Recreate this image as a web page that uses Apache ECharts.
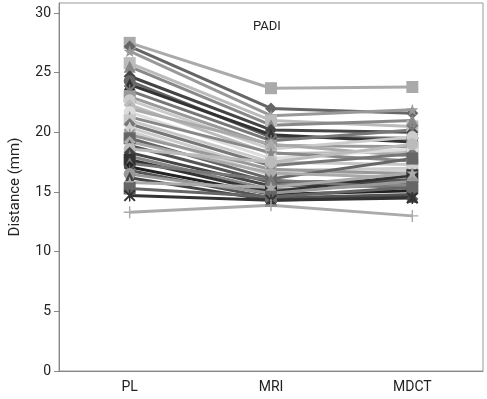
<!DOCTYPE html>
<html><head><meta charset="utf-8">
<script src="https://cdn.jsdelivr.net/npm/echarts@6/dist/echarts.min.js"></script>
<style>html,body{margin:0;padding:0;background:#fff}#c{width:487px;height:399px}</style>
</head><body><div id="c"></div>
<script>
const categories = ['PL', 'MRI', 'MDCT'];
const yTicks = [0, 5, 10, 15, 20, 25, 30];
const plValues   = [27.5,27.2,26.8,25.8,25.5,24.7,24.3,24.0,23.5,23.0,22.7,22.3,22.0,21.7,21.3,21.0,20.7,20.4,20.1,19.8,19.5,19.2,18.9,18.6,18.3,18.0,17.7,17.4,17.1,16.8,16.5,16.2,15.8,15.3,14.7,13.3];
const mriValues  = [23.7,22.0,21.4,21.0,20.6,20.2,19.6,19.8,19.3,18.9,18.6,18.2,19.0,17.8,18.3,17.5,17.2,16.8,16.4,16.9,16.1,16.6,15.8,17.5,15.5,15.2,15.0,16.0,14.8,14.5,14.9,14.3,15.4,14.6,14.3,13.9];
const mdctValues = [23.8,21.6,21.9,20.5,21.0,20.0,19.5,19.2,20.2,18.8,19.6,18.4,18.0,18.6,17.6,17.3,18.2,17.0,16.8,16.5,17.8,16.2,16.0,19.0,15.8,15.6,16.4,15.3,15.1,14.8,15.9,14.6,16.6,15.4,14.5,13.0];

const seriesColors = ['#aaaaaa','#666666','#999999','#bbbbbb','#888888','#444444','#666666','#333333','#777777','#999999','#cccccc','#bbbbbb','#aaaaaa','#dddddd','#888888','#c8c8c8','#777777','#cccccc','#d0d0d0','#999999','#666666','#aaaaaa','#555555','#bbbbbb','#444444','#888888','#333333','#777777','#222222','#555555','#999999','#444444','#aaaaaa','#666666','#333333','#aaaaaa'];
const STAR = 'path://M5,0 L6.2,3.6 L10,3.6 L7,5.9 L8.1,9.5 L5,7.3 L1.9,9.5 L3,5.9 L0,3.6 L3.8,3.6 Z';
const XSYM = 'path://M0,1.2 L1.2,0 L10,8.8 L8.8,10 Z M8.8,0 L10,1.2 L1.2,10 L0,8.8 Z M4.4,0 L5.6,0 L5.6,10 L4.4,10 Z';
const PLUS = 'path://M4.4,0 L5.6,0 L5.6,4.4 L10,4.4 L10,5.6 L5.6,5.6 L5.6,10 L4.4,10 L4.4,5.6 L0,5.6 L0,4.4 L4.4,4.4 Z';
const seriesSymbols = ['rect','diamond',STAR,'rect','triangle','diamond','circle','triangle',XSYM,'rect','circle','diamond','triangle','circle',STAR,'rect','diamond','triangle','circle',XSYM,'rect','diamond','triangle','circle','diamond',STAR,'rect','triangle','diamond',XSYM,'circle','triangle',STAR,'rect',XSYM,PLUS];

const FONT = 'Roboto, "Open Sans", sans-serif';
const series = plValues.map((v, i) => ({
  type: 'line',
  data: [plValues[i], mriValues[i], mdctValues[i]],
  symbol: seriesSymbols[i],
  symbolSize: 12,
  showSymbol: true,
  lineStyle: { color: seriesColors[i], width: 3 },
  itemStyle: { color: seriesColors[i] },
  emphasis: { disabled: true },
  animation: false
}));

const chart = echarts.init(document.getElementById('c'), null, { renderer: 'canvas' });
chart.setOption({
  backgroundColor: '#fff',
  animation: false,
  textStyle: { fontFamily: FONT },
  grid: { left: 55, right: 4, top: 3, bottom: 28, show: true, borderColor: '#999', borderWidth: 1, containLabel: false },
  xAxis: {
    type: 'category', data: categories, boundaryGap: true,
    axisLine: { lineStyle: { color: '#888' } },
    axisTick: { alignWithLabel: true, length: 5, lineStyle: { color: '#888' } },
    axisLabel: { color: '#222', fontSize: 14, margin: 9, fontFamily: FONT }
  },
  yAxis: {
    type: 'value', min: 0, max: 30.84,
    name: 'Distance (mm)', nameLocation: 'middle', nameGap: 36, nameRotate: 90,
    nameTextStyle: { color: '#222', fontSize: 15, fontFamily: FONT },
    axisLine: { show: true, lineStyle: { color: '#888' } },
    axisTick: { show: true, length: 5, customValues: yTicks, lineStyle: { color: '#888' } },
    axisLabel: { color: '#222', fontSize: 14, margin: 8, customValues: yTicks, fontFamily: FONT },
    splitLine: { show: false }
  },
  graphic: [{ type: 'text', left: 253, top: 20, style: { text: 'PADI', fill: '#222', font: '13px ' + FONT } }],
  series: series
});
</script></body></html>
